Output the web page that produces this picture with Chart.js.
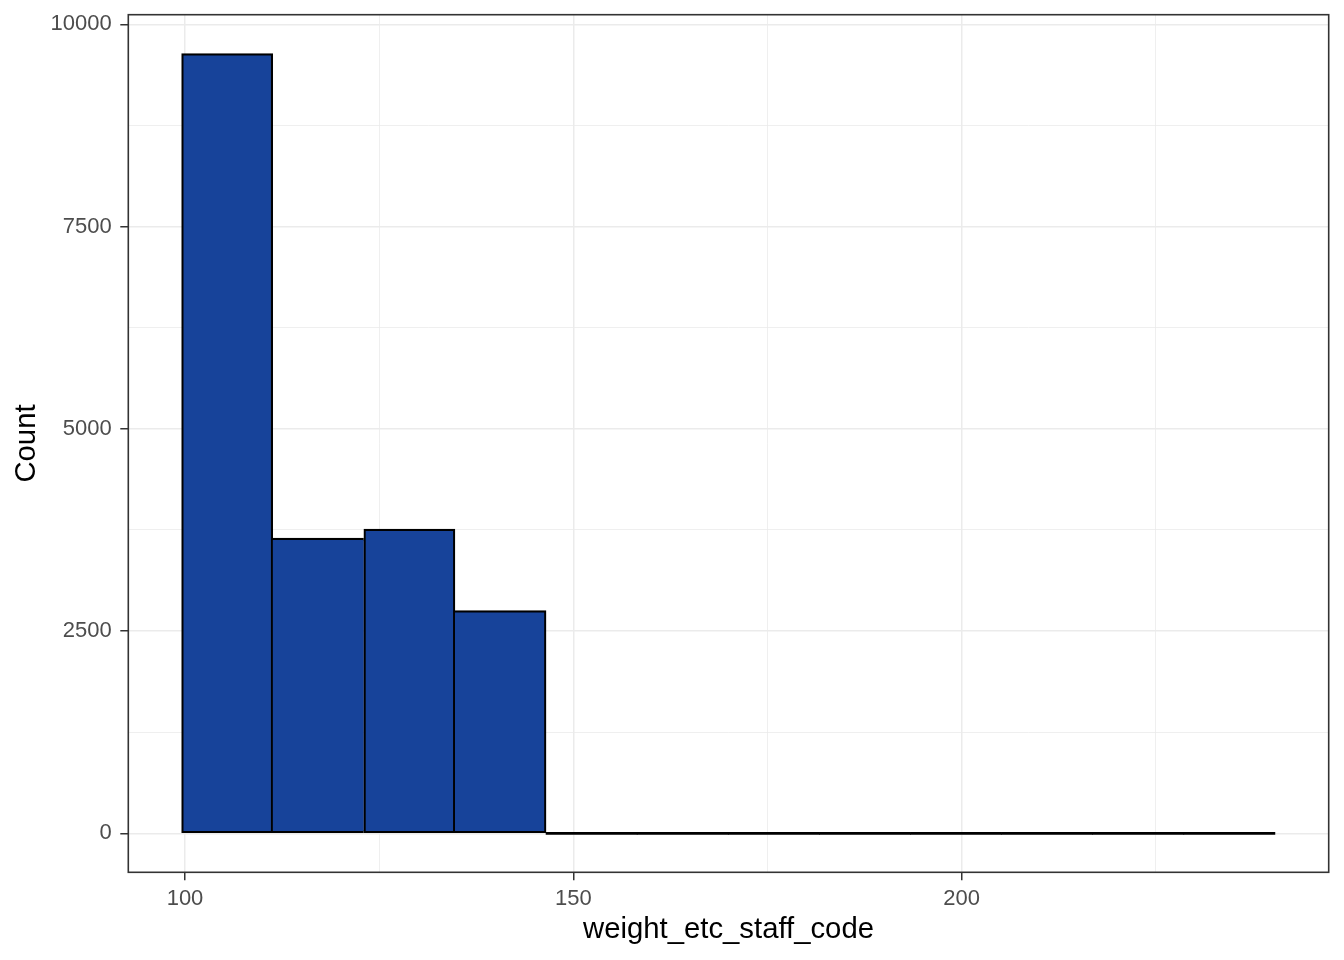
<!DOCTYPE html>
<html>
<head>
<meta charset="utf-8">
<script src="https://cdn.jsdelivr.net/npm/chart.js@4/dist/chart.umd.min.js"></script>
<style>
  body { margin: 0; background: #fff; }
  #wrap { width: 1344px; height: 960px; }
</style>
</head>
<body>
<div id="wrap"><canvas id="hist"></canvas></div>
<script>
// histogram bins (mid points) and counts
const binMids = [105.43, 117.16, 128.89, 140.62, 152.35, 164.08, 175.81, 187.54, 199.27, 211.00, 222.73, 234.46];
const counts = [9637, 3649, 3760, 2752, 0, 0, 0, 0, 0, 0, 0, 0];
// grid breaks (major + minor) and the labelled ones
const xBreaks = [100, 125, 150, 175, 200, 225];
const xTickLabels = [100, 150, 200];
const yBreaks = [0, 1250, 2500, 3750, 5000, 6250, 7500, 8750, 10000];
const yTickLabels = [0, 2500, 5000, 7500, 10000];

// draws the full panel border on top, like theme_bw
const panelBorder = {
    id: 'panelBorder',
    afterDatasetsDraw(chart) {
        const a = chart.chartArea;
        const ctx = chart.ctx;
        ctx.save();
        ctx.strokeStyle = '#333333';
        ctx.lineWidth = 1.6;
        ctx.strokeRect(a.left, a.top, a.right - a.left, a.bottom - a.top);
        ctx.restore();
    }
};

// a shared edge between two bars is drawn once, by the taller bar
function barBorder(i) {
    const w = 2.2;
    if (!(counts[i] > 0)) return 0;
    const prev = i > 0 ? counts[i - 1] : 0;
    const next = i < counts.length - 1 ? counts[i + 1] : 0;
    return {
        top: w,
        bottom: 2,
        left: prev <= counts[i] ? w : 0,
        right: next < counts[i] ? w : 0
    };
}

function isMajor(c, labels) {
    return c.tick && labels.includes(c.tick.value);
}

function createHistogram() {
    const ctx = document.getElementById('hist').getContext('2d');
    const data = {
        datasets: [{
            data: binMids.map((m, i) => ({ x: m, y: counts[i] })),
            backgroundColor: c => counts[c.dataIndex] > 0 ? '#17439A' : '#000000',
            borderColor: '#000000',
            borderWidth: c => barBorder(c.dataIndex),
            borderSkipped: false,
            minBarLength: 2.2,
            barPercentage: 1,
            categoryPercentage: 1
        }]
    };
    const config = {
        type: 'bar',
        data: data,
        plugins: [panelBorder],
        options: {
            responsive: true,
            maintainAspectRatio: false,
            animation: false,
            events: [],
            layout: {
                padding: { top: 14.7, right: 15.3, left: 0, bottom: 0 }
            },
            scales: {
                x: {
                    type: 'linear',
                    offset: false,
                    min: 92.7,
                    max: 247.25,
                    afterBuildTicks: s => { s.ticks = xBreaks.map(v => ({ value: v })); },
                    afterFit: s => { s.height = 87.7; s.paddingLeft = 0; s.paddingRight = 0; },
                    border: { display: false },
                    grid: {
                        offset: false,
                        color: '#ebebeb',
                        lineWidth: c => isMajor(c, xTickLabels) ? 1.5 : 0.8,
                        tickColor: c => isMajor(c, xTickLabels) ? '#333333' : 'rgba(0,0,0,0)',
                        tickLength: 8,
                        tickWidth: 1.5
                    },
                    ticks: {
                        maxRotation: 0,
                        autoSkip: false,
                        padding: 5,
                        color: '#4d4d4d',
                        font: { family: 'Liberation Sans', size: 22 },
                        callback: v => xTickLabels.includes(v) ? String(v) : ''
                    },
                    title: {
                        display: true,
                        text: 'weight_etc_staff_code',
                        color: '#000000',
                        font: { family: 'Liberation Sans', size: 29.3 },
                        padding: { top: 0, bottom: 12.5 }
                    }
                },
                y: {
                    min: -482,
                    max: 10119,
                    afterBuildTicks: s => { s.ticks = yBreaks.map(v => ({ value: v })); },
                    afterFit: s => { s.width = 128.3; s.paddingTop = 0; s.paddingBottom = 0; },
                    border: { display: false },
                    grid: {
                        color: '#ebebeb',
                        lineWidth: c => isMajor(c, yTickLabels) ? 1.5 : 0.8,
                        tickColor: c => isMajor(c, yTickLabels) ? '#333333' : 'rgba(0,0,0,0)',
                        tickLength: 8,
                        tickWidth: 1.5
                    },
                    ticks: {
                        autoSkip: false,
                        padding: 8.6,
                        color: '#4d4d4d',
                        font: { family: 'Liberation Sans', size: 22 },
                        callback: v => yTickLabels.includes(v) ? String(v) : ''
                    },
                    title: {
                        display: true,
                        text: 'Count',
                        color: '#000000',
                        font: { family: 'Liberation Sans', size: 29.3 },
                        padding: { top: 9.5, bottom: 0 }
                    }
                }
            },
            plugins: {
                legend: { display: false },
                tooltip: { enabled: false }
            }
        }
    };
    new Chart(ctx, config);
}

createHistogram();
</script>
</body>
</html>
